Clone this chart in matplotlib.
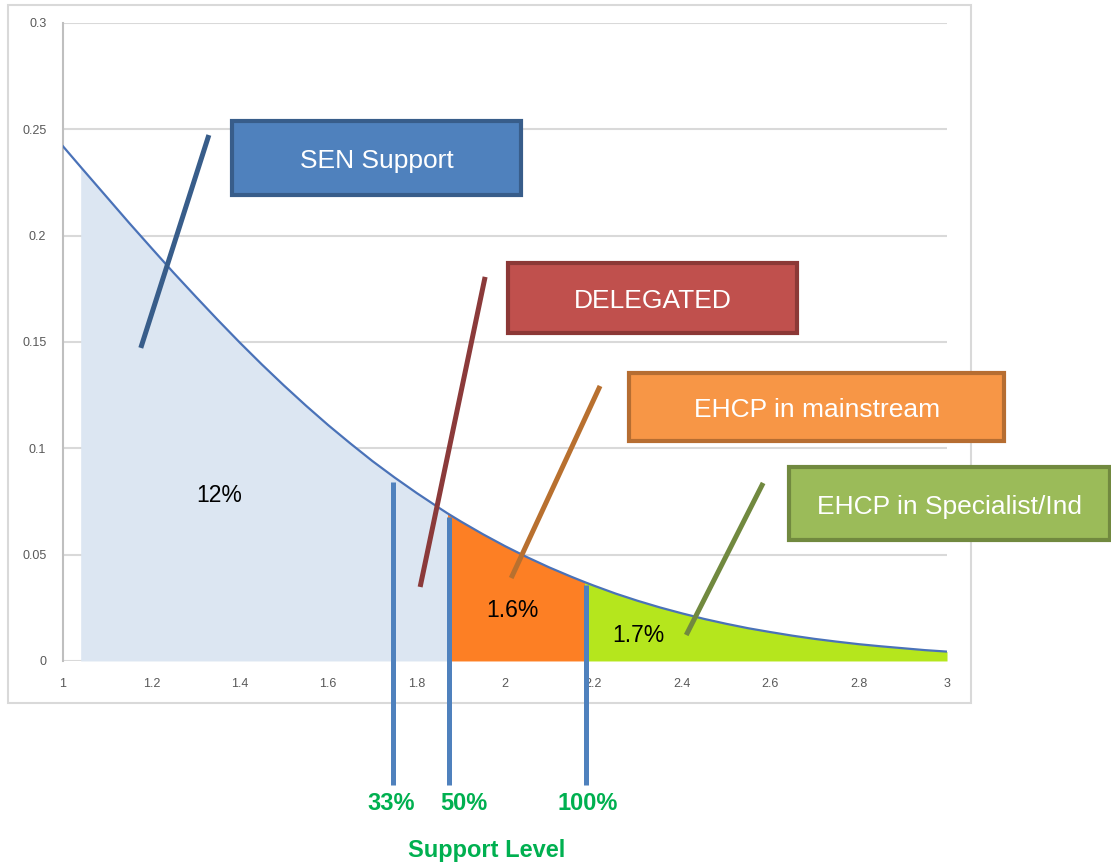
"""Support level distribution chart with callouts."""
import matplotlib
matplotlib.use("Agg")
import matplotlib.pyplot as plt
from matplotlib.patches import Rectangle
from matplotlib.transforms import blended_transform_factory
import numpy as np

plt.rcParams['font.family'] = ['Liberation Sans', 'DejaVu Sans']

# Curve
curve_x = [1.0, 1.04, 1.1, 1.15, 1.2, 1.25, 1.3, 1.35, 1.4, 1.45, 1.5, 1.55,
           1.6, 1.65, 1.7, 1.75, 1.8, 1.85, 1.87, 1.9, 1.95, 2.0, 2.05, 2.1, 2.15,
           2.18, 2.2, 2.25, 2.3, 2.35, 2.4, 2.45, 2.5, 2.55, 2.6, 2.65, 2.7, 2.75,
           2.8, 2.85, 2.9, 2.95, 3.0]
curve_y = [0.2420, 0.2323, 0.2179, 0.2059, 0.1942, 0.1826, 0.1714, 0.1604, 0.1497,
           0.1394, 0.1295, 0.1200, 0.1109, 0.1023, 0.0940, 0.0863, 0.0790, 0.0721,
           0.0694, 0.0656, 0.0596, 0.0540, 0.0488, 0.0440, 0.0396, 0.0371, 0.0355,
           0.0317, 0.0283, 0.0252, 0.0224, 0.0198, 0.0175, 0.0154, 0.0136, 0.0119,
           0.0104, 0.0091, 0.0079, 0.0069, 0.0060, 0.0051, 0.0044]

# Band limits (x) and band labels
band_edges = [1.04, 1.87, 2.18, 3.0]
band_colors = ['#dce6f2', '#fd7f24', '#b5e61d']
band_labels = ['12%', '1.6%', '1.7%']
band_label_pos = [(1.353, 0.079), (2.016, 0.0245), (2.301, 0.0132)]

# Support level markers
marker_x = [1.7466, 1.8733, 2.1833]
marker_top = [0.0842, 0.0677, 0.0357]
marker_labels = ['33%', '50%', '100%']
marker_label_x = [1.742, 1.907, 2.188]

# Callout boxes: (x0, y0, x1, y1) in data units
callout_text = ['SEN Support', 'DELEGATED', 'EHCP in mainstream', 'EHCP in Specialist/Ind']
callout_box = [(1.382, 0.2192, 2.036, 0.2539),
               (2.007, 0.1542, 2.661, 0.1871),
               (2.281, 0.1034, 3.129, 0.1354),
               (2.643, 0.0569, 3.369, 0.0912)]
callout_fill = ['#4f81bd', '#c0504d', '#f79646', '#9bbb59']
callout_edge = ['#385d8a', '#8c3836', '#b66d31', '#71893f']
leader_start = [(1.330, 0.2473), (1.955, 0.1806), (2.215, 0.1293), (2.584, 0.0837)]
leader_end = [(1.176, 0.1472), (1.808, 0.0348), (2.014, 0.0390), (2.410, 0.0122)]
leader_color = ['#385d8a', '#8b3a3a', '#b8702f', '#71893f']

x_ticks = [1, 1.2, 1.4, 1.6, 1.8, 2, 2.2, 2.4, 2.6, 2.8, 3]
y_ticks = [0, 0.05, 0.1, 0.15, 0.2, 0.25, 0.3]

fig = plt.figure(figsize=(11.11, 8.63), dpi=100)
ax = fig.add_axes([0.0567, 0.2341, 0.7957, 0.7393])
ax.set_zorder(2)
ax.patch.set_visible(False)

# outer chart frame
fig.patches.append(Rectangle((0.0072, 0.1854), 0.8668, 0.8088, transform=fig.transFigure,
                             fill=False, edgecolor='#d9d9d9', lw=1.5, zorder=0))

x = np.array(curve_x)
y = np.array(curve_y)
for i in range(3):
    mask = (x >= band_edges[i] - 1e-9) & (x <= band_edges[i + 1] + 1e-9)
    ax.fill_between(x, 0, y, where=mask, color=band_colors[i], lw=0, zorder=1)
ax.plot(x, y, color='#4a72b8', lw=1.6, zorder=3)

for (bx, by), txt in zip(band_label_pos, band_labels):
    ax.text(bx, by - 0.001, txt, fontsize=16.5, ha='center', va='center', color='black', zorder=8)

for mx, mt in zip(marker_x, marker_top):
    ax.plot([mx, mx], [mt, -0.0583], color='#4f81bd', lw=3.6, clip_on=False,
            solid_capstyle='butt', zorder=4)
mixed = blended_transform_factory(ax.transData, fig.transFigure)
for lx, txt in zip(marker_label_x, marker_labels):
    ax.text(lx, 1 - 803 / 863, txt, transform=mixed, fontsize=17, fontweight='bold',
            color='#00b050', ha='center', va='center', clip_on=False)
fig.text(487 / 1111, 1 - 850 / 863, 'Support Level', fontsize=17, fontweight='bold',
         color='#00b050', ha='center', va='center')

for i in range(4):
    (sx, sy), (ex, ey) = leader_start[i], leader_end[i]
    ax.plot([sx, ex], [sy, ey], color=leader_color[i], lw=3.6, clip_on=False,
            solid_capstyle='butt', zorder=5)
    x0, y0, x1, y1 = callout_box[i]
    ax.add_patch(Rectangle((x0, y0), x1 - x0, y1 - y0, facecolor=callout_fill[i],
                           edgecolor=callout_edge[i], lw=3, clip_on=False, zorder=6))
    ax.text((x0 + x1) / 2, (y0 + y1) / 2 - 0.0015, callout_text[i], color='white',
            fontsize=19, ha='center', va='center', zorder=7, clip_on=False)

ax.set_xlim(1, 3)
ax.set_ylim(0, 0.3)
ax.set_xticks(x_ticks)
ax.set_xticklabels([f'{t:g}' for t in x_ticks])
ax.set_yticks(y_ticks)
ax.set_yticklabels([f'{t:g}' for t in y_ticks])
ax.tick_params(length=0, labelsize=9, labelcolor='#595959')
ax.tick_params(axis='x', pad=12)
ax.tick_params(axis='y', pad=12)
ax.yaxis.grid(True, color='#d9d9d9', lw=1.5, zorder=0)
ax.set_axisbelow(True)
for side in ['top', 'right', 'bottom']:
    ax.spines[side].set_visible(False)
ax.spines['left'].set_color('#bfbfbf')
ax.spines['left'].set_linewidth(1.5)

plt.savefig('out.png', dpi=100)
plt.close()
